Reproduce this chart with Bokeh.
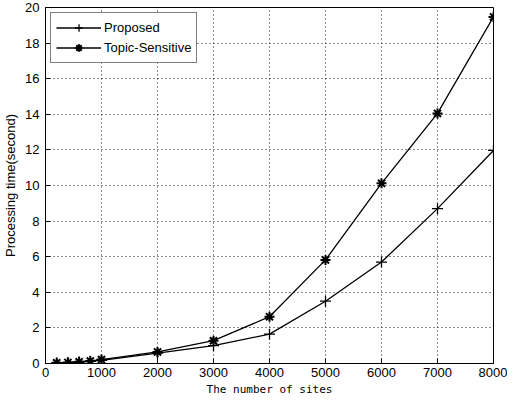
from bokeh.plotting import figure
from bokeh.models import Range1d, FixedTicker, Legend
from bokeh.embed import file_html
from bokeh.resources import INLINE

sites = [200, 400, 600, 800, 1000, 2000, 3000, 4000, 5000, 6000, 7000, 8000]
proposed = [0.03, 0.05, 0.08, 0.12, 0.18, 0.58, 1.0, 1.65, 3.5, 5.7, 8.7, 11.97]
topic_sensitive = [0.04, 0.06, 0.1, 0.14, 0.22, 0.65, 1.28, 2.63, 5.82, 10.12, 14.05, 19.47]
x_ticks = [0, 1000, 2000, 3000, 4000, 5000, 6000, 7000, 8000]
y_ticks = [0, 2, 4, 6, 8, 10, 12, 14, 16, 18, 20]

p = figure(width=507, height=398, output_backend="svg", toolbar_location=None,
           x_range=Range1d(0, 8000), y_range=Range1d(0, 20),
           min_border_left=39, min_border_right=14, min_border_top=7, min_border_bottom=34)
p.background_fill_color = "white"
p.border_fill_color = "white"
p.outline_line_color = "black"
p.outline_line_width = 1

for ax in (p.xaxis[0], p.yaxis[0]):
    ax.axis_line_color = "black"
    ax.major_tick_line_color = "black"
    ax.major_tick_in = 5
    ax.major_tick_out = 0
    ax.minor_tick_line_color = None
    ax.major_label_text_font = "Liberation Sans"
    ax.major_label_text_font_size = "13px"
    ax.major_label_text_color = "black"
    ax.axis_label_text_font_style = "normal"
    ax.axis_label_text_color = "black"

p.xaxis.ticker = FixedTicker(ticks=x_ticks)
p.yaxis.ticker = FixedTicker(ticks=y_ticks)
p.xaxis.major_label_standoff = 4
p.yaxis.major_label_standoff = 6
p.xaxis.axis_label = "The number of sites"
p.xaxis.axis_label_text_font = "DejaVu Sans Mono"
p.xaxis.axis_label_text_font_size = "11px"
p.xaxis.axis_label_standoff = 3
p.yaxis.axis_label = "Processing time(second)"
p.yaxis.axis_label_text_font = "Liberation Sans"
p.yaxis.axis_label_text_font_size = "13px"
p.yaxis.axis_label_standoff = 4

for g in (p.xgrid[0], p.ygrid[0]):
    g.grid_line_color = "black"
    g.grid_line_dash = "1 3"
    g.grid_line_width = 1
    g.grid_line_alpha = 0.9

l1 = p.line(sites, proposed, line_color="black", line_width=1.3)
m1 = p.scatter(sites, proposed, marker="cross", size=11, line_color="black", line_width=1.3)
l2 = p.line(sites, topic_sensitive, line_color="black", line_width=1.3)
m2 = p.scatter(sites, topic_sensitive, marker="asterisk", size=10, line_color="black", line_width=2)

legend = Legend(items=[("Proposed", [l1, m1]), ("Topic-Sensitive", [l2, m2])],
                location="top_left")
legend.margin = 5
legend.padding = 5
legend.spacing = 1
legend.glyph_width = 45
legend.glyph_height = 19
legend.label_height = 19
legend.label_standoff = 3
legend.label_text_font = "Liberation Sans"
legend.label_text_font_size = "13px"
legend.label_text_color = "black"
legend.border_line_color = "black"
legend.border_line_width = 1
legend.background_fill_color = "white"
legend.background_fill_alpha = 1
p.add_layout(legend)

open("out.html", "w").write(file_html(p, INLINE))
